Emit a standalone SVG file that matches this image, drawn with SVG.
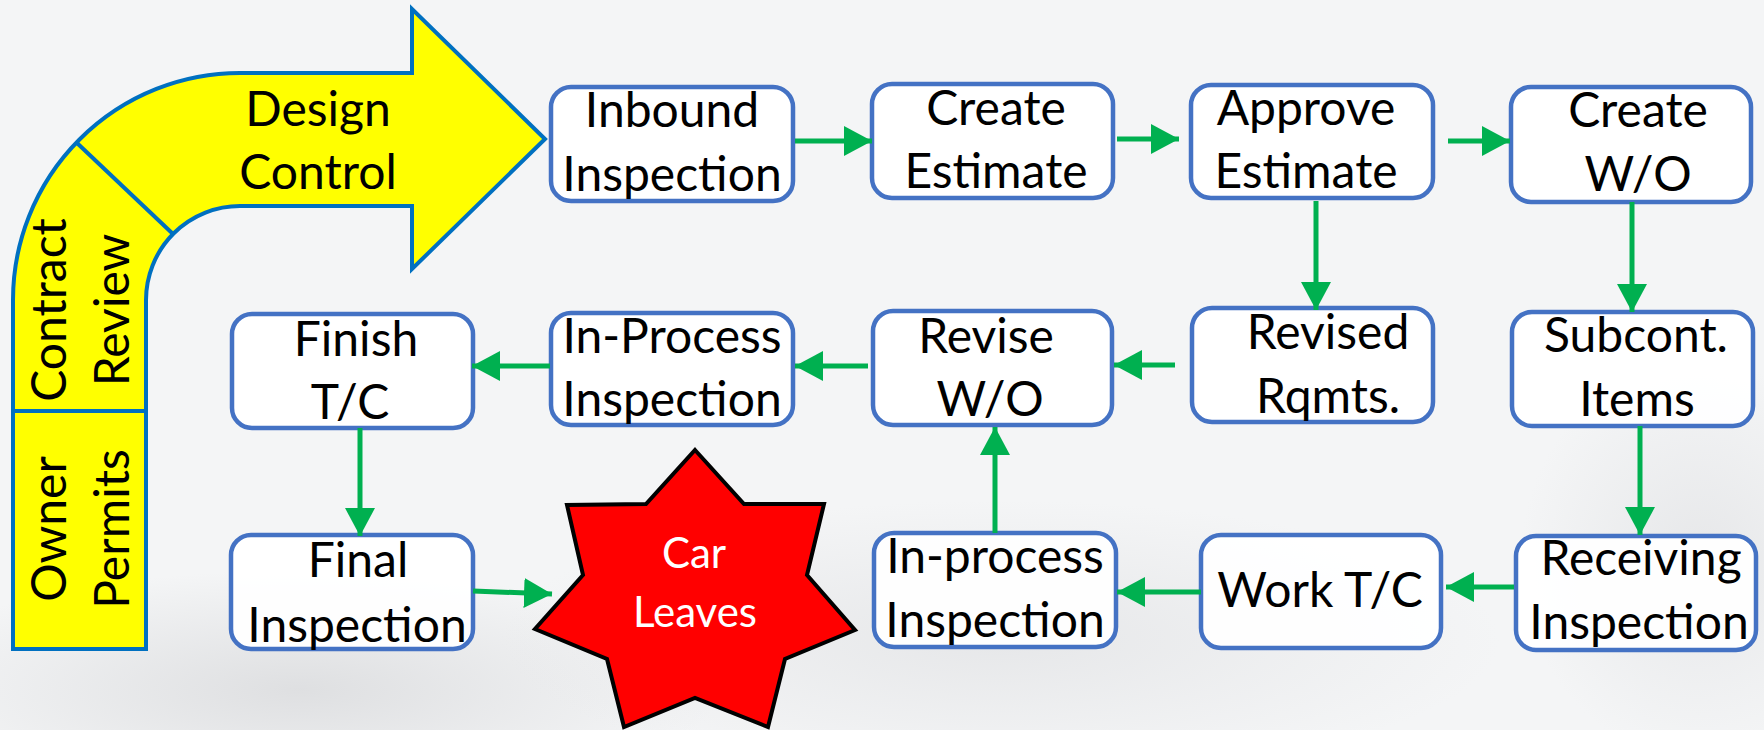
<svg xmlns="http://www.w3.org/2000/svg" width="1764" height="730" viewBox="0 0 1764 730">
  <defs>
    <style>
      .box { fill: #FFFFFF; fill-opacity: 0.93; stroke: #4472C4; stroke-width: 4.5; }
      .lbl { font-family: Lato, "Liberation Sans", sans-serif; font-size: 48px; fill: #000000; text-anchor: middle; }
      .side { font-family: Lato, "Liberation Sans", sans-serif; font-size: 48px; fill: #000000; text-anchor: middle; }
      .star-lbl { font-family: Lato, "Liberation Sans", sans-serif; font-size: 42px; fill: #FFFFFF; text-anchor: middle; }
      .flow { stroke: #00B050; stroke-width: 5; fill: none; marker-end: url(#head); }
      .band { fill: #FFFF00; stroke: #0070C0; stroke-width: 4; stroke-linejoin: miter; }
      .sep { stroke: #0070C0; stroke-width: 4; }
    </style>
    <marker id="head" markerUnits="userSpaceOnUse" markerWidth="28" markerHeight="30" refX="28" refY="15" orient="auto" viewBox="0 0 28 30">
      <path d="M0,0 L28,15 L0,30 z" fill="#00B050"/>
    </marker>
    <radialGradient id="haze1" cx="0.5" cy="0.5" r="0.5">
      <stop offset="0" stop-color="#DCDDDF" stop-opacity="0.9"/>
      <stop offset="1" stop-color="#DCDDDF" stop-opacity="0"/>
    </radialGradient>
    <radialGradient id="haze2" cx="0.5" cy="0.5" r="0.5">
      <stop offset="0" stop-color="#E3E4E6" stop-opacity="0.8"/>
      <stop offset="1" stop-color="#E3E4E6" stop-opacity="0"/>
    </radialGradient>
  </defs>

  <!-- faded backdrop -->
  <rect width="1764" height="730" fill="#F4F5F6"/>
  <ellipse cx="300" cy="690" rx="420" ry="120" fill="url(#haze1)"/>
  <ellipse cx="1000" cy="640" rx="500" ry="140" fill="url(#haze2)"/>
  <ellipse cx="1700" cy="560" rx="180" ry="200" fill="url(#haze2)"/>

  <!-- curved process band -->
  <g id="process-band">
    <path class="band" d="M545,139 L412,269 L412,206 L240,206 A94,94 0 0 0 146,300 L146,649 L13,649 L13,300 A227,227 0 0 1 240,73 L412,73 L412,9 Z"/>
    <line class="sep" x1="77" y1="143" x2="173" y2="234"/>
    <line class="sep" x1="13" y1="411" x2="146" y2="411"/>
    <text class="lbl"><tspan x="318" y="126">Design</tspan><tspan x="318" y="189">Control</tspan></text>
    <g transform="translate(66 310) rotate(-90)"><text class="side" x="0" y="0">Contract</text></g>
    <g transform="translate(129 310) rotate(-90)"><text class="side" x="0" y="0">Review</text></g>
    <g transform="translate(66 529) rotate(-90)"><text class="side" x="0" y="0">Owner</text></g>
    <g transform="translate(129 529) rotate(-90)"><text class="side" x="0" y="0">Permits</text></g>
  </g>

  <!-- row 1 -->
  <g id="inbound-inspection">
    <rect class="box" x="551" y="87" width="242" height="114" rx="20"/>
    <text class="lbl"><tspan x="672" y="127">Inbound</tspan><tspan x="672" y="191">Inspection</tspan></text>
  </g>
  <g id="create-estimate">
    <rect class="box" x="872" y="84" width="241" height="114" rx="20"/>
    <text class="lbl"><tspan x="996" y="125">Create</tspan><tspan x="996" y="188">Estimate</tspan></text>
  </g>
  <g id="approve-estimate">
    <rect class="box" x="1191" y="85" width="242" height="113" rx="20"/>
    <text class="lbl"><tspan x="1306" y="125">Approve</tspan><tspan x="1306" y="188">Estimate</tspan></text>
  </g>
  <g id="create-wo">
    <rect class="box" x="1511" y="87" width="240" height="115" rx="20"/>
    <text class="lbl"><tspan x="1638" y="127">Create</tspan><tspan x="1638" y="191">W/O</tspan></text>
  </g>

  <!-- row 2 -->
  <g id="finish-tc">
    <rect class="box" x="232" y="314" width="241" height="114" rx="20"/>
    <text class="lbl"><tspan x="356" y="356">Finish</tspan><tspan x="350" y="419">T/C</tspan></text>
  </g>
  <g id="in-process-inspection-upper">
    <rect class="box" x="551" y="313" width="242" height="112" rx="20"/>
    <text class="lbl"><tspan x="672" y="353">In-Process</tspan><tspan x="672" y="416">Inspection</tspan></text>
  </g>
  <g id="revise-wo">
    <rect class="box" x="873" y="311" width="239" height="114" rx="20"/>
    <text class="lbl"><tspan x="986" y="353">Revise</tspan><tspan x="990" y="416">W/O</tspan></text>
  </g>
  <g id="revised-rqmts">
    <rect class="box" x="1192" y="308" width="241" height="114" rx="20"/>
    <text class="lbl"><tspan x="1328" y="349">Revised</tspan><tspan x="1328" y="413">Rqmts.</tspan></text>
  </g>
  <g id="subcont-items">
    <rect class="box" x="1512" y="312" width="241" height="114" rx="20"/>
    <text class="lbl"><tspan x="1636" y="352">Subcont.</tspan><tspan x="1637" y="416">Items</tspan></text>
  </g>

  <!-- row 3 -->
  <g id="final-inspection">
    <rect class="box" x="231" y="535" width="242" height="114" rx="20"/>
    <text class="lbl"><tspan x="358" y="577">Final</tspan><tspan x="357" y="642">Inspection</tspan></text>
  </g>
  <g id="car-leaves">
    <polygon points="695,450 744,504 824,504 807,575 855,630 785,659 768,727 695,698 624,727 607,659 535,629 583,575 567,505 646,504" fill="#FF0000" stroke="#000000" stroke-width="4" stroke-linejoin="miter"/>
    <text class="star-lbl"><tspan x="694" y="568">Car</tspan><tspan x="695" y="627">Leaves</tspan></text>
  </g>
  <g id="in-process-inspection-lower">
    <rect class="box" x="874" y="533" width="242" height="114" rx="20"/>
    <text class="lbl"><tspan x="995" y="573">In-process</tspan><tspan x="995" y="637">Inspection</tspan></text>
  </g>
  <g id="work-tc">
    <rect class="box" x="1201" y="535" width="240" height="113" rx="20"/>
    <text class="lbl"><tspan x="1320" y="607">Work T/C</tspan></text>
  </g>
  <g id="receiving-inspection">
    <rect class="box" x="1516" y="536" width="240" height="114" rx="20"/>
    <text class="lbl"><tspan x="1641" y="575">Receiving</tspan><tspan x="1639" y="639">Inspection</tspan></text>
  </g>

  <!-- connectors -->
  <g id="connectors">
    <line class="flow" x1="795" y1="141" x2="872" y2="141"/>
    <line class="flow" x1="1117" y1="139" x2="1179" y2="139"/>
    <line class="flow" x1="1448" y1="141" x2="1510" y2="141"/>
    <line class="flow" x1="1316" y1="201" x2="1316" y2="310"/>
    <line class="flow" x1="1632" y1="202" x2="1632" y2="312"/>
    <line class="flow" x1="1640" y1="426" x2="1640" y2="535"/>
    <line class="flow" x1="1514" y1="587" x2="1446" y2="587"/>
    <line class="flow" x1="1201" y1="592" x2="1117" y2="592"/>
    <line class="flow" x1="995" y1="533" x2="995" y2="427"/>
    <line class="flow" x1="1175" y1="365" x2="1114" y2="365"/>
    <line class="flow" x1="868" y1="366" x2="795" y2="366"/>
    <line class="flow" x1="550" y1="366" x2="472" y2="366"/>
    <line class="flow" x1="360" y1="428" x2="360" y2="536"/>
    <line class="flow" x1="473" y1="591" x2="552" y2="594"/>
  </g>
</svg>
